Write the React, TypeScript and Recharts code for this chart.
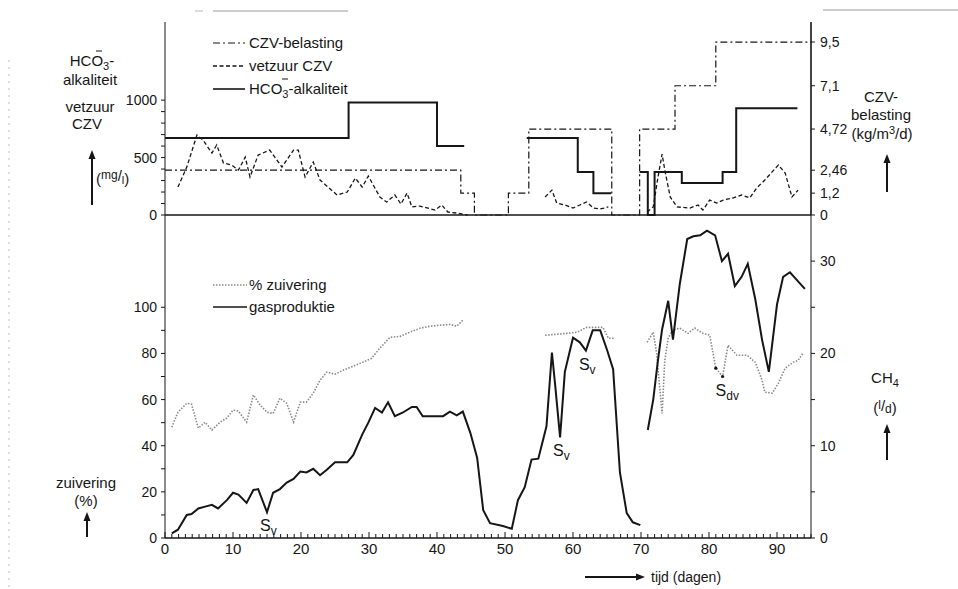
import React from "react";
import { ComposedChart, Line, XAxis, YAxis, ReferenceLine, ReferenceDot } from "recharts";

const FONT = "'Liberation Sans', Arial, sans-serif";
const INK = "#161616";
const GREY = "#8a8a8a";

// top panel: CZV-belasting (kg/m3/d), step line, right axis
const czvDays = [0, 43.5, 45.5, 50.5, 53.5, 65.7, 69.8, 75, 81, 95];
const czvLoad = [2.46, 1.2, 0, 1.2, 4.72, 0, 4.72, 7.1, 9.5, 9.5];

// top panel: HCO3- alkaliteit (mg/l), step line, left axis
const hcoDays = [0, 27, 40, 44, 48, 53.2, 60.7, 63, 65.6, 67, 69.8, 71, 72, 76, 82, 84, 93];
const hcoValues = [670, 980, 600, 600, null, 670, 374, 190, 190, null, 374, 0, 374, 278, 374, 930, 930];

// top panel: vetzuur CZV (mg/l), left axis
const vzDays = [
  1.9, 3.2, 4.7, 5.6, 6.9, 7.6, 8.6, 9.8, 10.8, 11.8, 12.5, 13.7, 15.4, 17.2, 18.9, 19.6, 20.6, 21.8,
  22.8, 25.3, 26.8, 28, 29, 29.9, 31.6, 32.6, 33.8, 34.7, 35.6, 36.3, 37.5, 39.7, 40.7, 41.6, 42.9, 44.5,
  50,
  55.9, 56.9, 57.6, 58.8, 60, 61, 62, 63, 64, 65.2,
  68,
  70.9, 71.8, 72.5, 73.1, 73.5, 74.3, 75.3, 77.2, 78.4, 79.1, 80.1, 81.1, 82.1, 83.5, 84.8, 86, 87, 88.2,
  90.2, 91.2, 92.2, 93.1,
];
const vzValues = [
  243, 417, 696, 652, 539, 609, 452, 435, 391, 504, 330, 522, 565, 417, 565, 565, 330, 461,
  304, 174, 200, 322, 243, 339, 157, 113, 174, 96, 191, 70, 78, 43, 87, 26, 17, 0,
  null,
  157, 217, 104, 87, 61, 87, 113, 61, 52, 70,
  null,
  26, 70, 330, 530, 391, 157, 70, 61, 87, 43, 130, 104, 130, 148, 174, 148, 235, 304,
  435, 365, 157, 217,
];

// bottom panel: % zuivering, left axis
const zvDays = [
  1, 1.9, 3.2, 3.9, 4.9, 5.9, 6.9, 8.1, 9.1, 10, 10.8, 12, 13, 14, 15, 15.9, 16.9, 17.9, 18.9, 19.9,
  20.8, 21.8, 22.8, 23.8, 25, 26.2, 27.7, 29.1, 30.4, 31.6, 33.1, 34.6, 36, 37.5, 39, 40.4, 41.9, 42.9, 43.8,
  50,
  55.9, 57.6, 59.1, 60.6, 62, 63.5, 64.4, 65.2, 66.2,
  68.5,
  70.9, 71.8, 72.3, 73.1, 73.5, 74, 74.6, 75.7, 76.9, 77.9, 79.1, 80.1, 81, 82, 82.8, 84.1, 85.6, 86.8,
  87.8, 88.2, 89.3, 90.2, 91.2, 92.4, 93.1, 93.8,
];
const zvValues = [
  48, 54.5, 58.4, 58, 47.6, 50.2, 46.8, 50.2, 52, 55.4, 55, 50.2, 62, 57.6, 54.5, 54, 60.6, 58.4, 50.2, 58.9,
  58.9, 62.8, 68.4, 71.9, 71, 72.7, 74.5, 76.2, 77.9, 82.3, 87, 87.4, 89.2, 90.9, 91.8, 92.2, 92.6, 91.8, 94.4,
  null,
  87.9, 88.3, 88.7, 89.2, 91.3, 91.3, 91.3, 86.6, 86.6,
  null,
  84.8, 89.2, 80, 54, 77, 86.6, 90, 91, 88.7, 91, 88.7, 87.9, 73.6, 70, 83.5, 79.2, 79.2, 76.2,
  68.4, 63.2, 62.8, 67, 73.6, 76.2, 77, 80,
];

// bottom panel: gasproduktie CH4 (l/d), right axis
const gasDays = [
  1, 1.9, 3.2, 3.9, 4.9, 5.9, 6.9, 7.8, 9.1, 10, 10.8, 12, 13, 13.7, 15, 15.9, 16.9, 17.9, 18.9, 19.9,
  20.8, 21.8, 22.8, 23.8, 25, 26.8, 27.7, 29, 29.9, 30.9, 31.9, 32.8, 33.8, 35, 36.3, 37, 37.9, 40.9,
  41.9, 42.9, 43.8, 44.9, 45.9, 46.8, 47.8, 49.7, 51, 51.9, 52.9, 53.9, 54.9, 56.1, 56.9, 57.4, 58.1,
  58.8, 60, 61, 61.9, 62.9, 64, 65, 65.9, 66.9, 67.9, 68.8, 69.9,
  70.5,
  71, 71.8, 72.5, 73.1, 74, 74.7, 75.7, 76.8, 77.7, 78.7, 79.7, 80.9, 81.9, 82.8, 83.8, 84.8, 85.7,
  86.8, 87.8, 88.8, 90, 90.9, 91.9, 93.1, 94.1,
];
const gasValues = [
  0.5, 0.9, 2.5, 2.6, 3.2, 3.4, 3.6, 3.2, 4.1, 4.9, 4.7, 3.8, 5.2, 5.3, 2.8, 4.9, 5.3, 6, 6.4, 7.2,
  7.1, 7.5, 6.8, 7.4, 8.2, 8.2, 9, 11.2, 12.5, 14.1, 13.6, 14.7, 13.2, 13.6, 14.2, 14.2, 13.2, 13.2,
  13.7, 13.3, 13.7, 11.4, 8.7, 3, 1.6, 1.3, 1, 4.1, 5.5, 8.5, 8.6, 12.1, 20.1, 16.4, 10.9,
  18, 21.7, 21.2, 20.3, 22.5, 22.5, 20.4, 18.3, 7.1, 2.7, 1.7, 1.4,
  null,
  11.7, 15, 19.3, 22.6, 25.7, 21.5, 27.5, 32.4, 32.7, 32.8, 33.3, 32.8, 30, 30.8, 27.3, 28.3, 29.7,
  25.9, 21.5, 18, 25.3, 28.3, 28.8, 27.8, 27,
];

// annotations: S_v marks on the gas line, S_dv on the purification line
const svDays = [15, 58.1, 61.9];
const svValues = [2.8, 10.9, 20.3];
const sdvDays = [81, 82];
const sdvValues = [73.6, 70];

// axis ticks
const mgTicks = [0, 100, 200, 300, 400, 500, 600, 700, 800, 900, 1000];
const loadTicks = [0, 1.2, 2.46, 4.72, 7.1, 9.5];
const pctTicks = [0, 10, 20, 30, 40, 50, 60, 70, 80, 90, 100];
const gasTicks = [0, 5, 10, 15, 20, 25, 30];
const dayTicks = Array.from({ length: 96 }, (_, i) => i);

const zip = (days: number[], vals: (number | null)[]) => days.map((d, i) => ({ d, v: vals[i] }));

const W = 958;
const H = 589;
const tickFont = { fontSize: 14, fill: INK, fontFamily: FONT };

function DayTick(props: any) {
  const { x, y, payload } = props;
  const major = payload.value % 10 === 0;
  return (
    <g>
      <line x1={x} x2={x} y1={y} y2={y - (major ? 6 : 4)} stroke={INK} strokeWidth={1} />
      {major && (
        <text x={x} y={y + 16} textAnchor="middle" fontSize={15} fontFamily={FONT} fill={INK}>
          {payload.value}
        </text>
      )}
    </g>
  );
}

function SMark(props: any) {
  const { cx, cy, sub, dot } = props;
  return (
    <g>
      {dot && <circle cx={cx} cy={cy} r={1.6} fill={INK} />}
      <text x={cx - 7} y={cy + 19} fontSize={16} fontFamily={FONT} fill={INK}>
        S<tspan dy={4} fontSize={12}>{sub}</tspan>
      </text>
    </g>
  );
}

function Arrow({ x1, y1, x2, y2 }: { x1: number; y1: number; x2: number; y2: number }) {
  const a = Math.atan2(y2 - y1, x2 - x1);
  const L = 9, w = 3.5;
  const bx = x2 - L * Math.cos(a), by = y2 - L * Math.sin(a);
  const px = -Math.sin(a) * w, py = Math.cos(a) * w;
  return (
    <g>
      <line x1={x1} y1={y1} x2={bx} y2={by} stroke={INK} strokeWidth={2} />
      <polygon points={`${x2},${y2} ${bx + px},${by + py} ${bx - px},${by - py}`} fill={INK} />
    </g>
  );
}

function Overlay() {
  const t = { fontFamily: FONT, fill: INK, fontSize: 15 } as const;
  return (
    <svg width={W} height={H} style={{ position: "absolute", left: 0, top: 0, pointerEvents: "none" }}>
      {/* scan edges */}
      <line x1={213} x2={348} y1={11} y2={11} stroke="#999" strokeWidth={1} />
      <line x1={195} x2={203} y1={11} y2={11} stroke="#bbb" strokeWidth={1} />
      <line x1={823} x2={958} y1={10} y2={10} stroke="#999" strokeWidth={1} />
      <line x1={9} x2={9} y1={60} y2={589} stroke="#bbb" strokeWidth={1} strokeDasharray="2 5" />

      {/* top legend */}
      <line x1={213} x2={245} y1={43} y2={43} stroke={INK} strokeWidth={1.2} strokeDasharray="7 3 2 3" />
      <text x={249} y={48} {...t}>CZV-belasting</text>
      <line x1={213} x2={245} y1={66} y2={66} stroke={INK} strokeWidth={1.3} strokeDasharray="4 2.5" />
      <text x={249} y={71} {...t}>vetzuur  CZV</text>
      <line x1={213} x2={245} y1={89} y2={89} stroke={INK} strokeWidth={1.6} />
      <text x={249} y={94} {...t}>
        HCO<tspan dy={4} fontSize={11}>3</tspan>
        <tspan dy={-4}>-alkaliteit</tspan>
      </text>
      <line x1={282} x2={288} y1={79} y2={79} stroke={INK} strokeWidth={1} />

      {/* bottom legend */}
      <line x1={213} x2={247} y1={285} y2={285} stroke={GREY} strokeWidth={1.5} strokeDasharray="1.5 1.5" />
      <text x={249} y={290} {...t}>%  zuivering</text>
      <line x1={213} x2={247} y1={307} y2={307} stroke={INK} strokeWidth={1.6} />
      <text x={249} y={312} {...t}>gasproduktie</text>

      {/* left titles */}
      <text x={92} y={66} textAnchor="middle" {...t}>
        HCO<tspan dy={4} fontSize={11}>3</tspan>
        <tspan dy={-4}>-</tspan>
      </text>
      <line x1={96} x2={102} y1={51} y2={51} stroke={INK} strokeWidth={1} />
      <text x={90} y={85} textAnchor="middle" {...t}>alkaliteit</text>
      <text x={90} y={112} textAnchor="middle" {...t}>vetzuur</text>
      <text x={87} y={129} textAnchor="middle" {...t}>CZV</text>
      <Arrow x1={92} y1={205} x2={92} y2={150} />
      <text x={96} y={184} {...t}>
        (<tspan dy={-5} fontSize={12}>mg</tspan>
        <tspan dy={2}>/</tspan>
        <tspan dy={3} fontSize={11}>l</tspan>
        <tspan dy={0}>)</tspan>
      </text>
      <text x={86} y={488} textAnchor="middle" {...t}>zuivering</text>
      <text x={86} y={506} textAnchor="middle" {...t}>(%)</text>
      <Arrow x1={87} y1={537} x2={87} y2={512} />

      {/* right titles */}
      <text x={881} y={102} textAnchor="middle" {...t}>CZV-</text>
      <text x={881} y={120} textAnchor="middle" {...t}>belasting</text>
      <text x={882} y={139} textAnchor="middle" {...t}>
        (kg/m<tspan dy={-5} fontSize={11}>3</tspan>
        <tspan dy={5}>/d)</tspan>
      </text>
      <Arrow x1={887} y1={192} x2={887} y2={154} />
      <text x={885} y={383} textAnchor="middle" {...t}>
        CH<tspan dy={4} fontSize={11}>4</tspan>
      </text>
      <text x={885} y={413} textAnchor="middle" {...t}>
        (<tspan dy={-4} fontSize={12}>l</tspan>
        <tspan dy={2}>/</tspan>
        <tspan dy={2} fontSize={12}>d</tspan>
        <tspan dy={0}>)</tspan>
      </text>
      <Arrow x1={887} y1={460} x2={887} y2={424} />

      {/* time axis title */}
      <Arrow x1={585} y1={577} x2={645} y2={577} />
      <text x={651} y={582} {...t} fontSize={14}>tijd (dagen)</text>
    </svg>
  );
}

export default function App() {
  return (
    <div style={{ position: "absolute", left: 0, top: 0, width: W, height: H, background: "#fff" }}>
      <div style={{ position: "absolute", left: 0, top: 0 }}>
        <ComposedChart width={W} height={240} margin={{ top: 22, right: 0, bottom: 25, left: 0 }}>
          <XAxis type="number" dataKey="d" domain={[0, 95]} hide height={0} />
          <YAxis
            yAxisId="l"
            domain={[0, 1680]}
            ticks={mgTicks}
            interval={0}
            width={165}
            tickSize={4}
            tickMargin={4}
            tick={tickFont}
            tickFormatter={(v: number) => (v % 500 === 0 ? String(v) : "")}
            axisLine={{ stroke: INK, strokeWidth: 1 }}
            tickLine={{ stroke: INK }}
          />
          <YAxis
            yAxisId="r"
            orientation="right"
            domain={[0, 10.6]}
            ticks={loadTicks}
            interval={0}
            width={147}
            tickSize={4}
            tickMargin={5}
            tick={tickFont}
            tickFormatter={(v: number) => String(v).replace(".", ",")}
            axisLine={{ stroke: INK, strokeWidth: 1.6 }}
            tickLine={{ stroke: INK }}
          />
          <ReferenceLine yAxisId="l" y={0} stroke={INK} strokeWidth={1.5} />
          <Line yAxisId="r" data={zip(czvDays, czvLoad)} dataKey="v" type="stepAfter" stroke={INK}
            strokeWidth={1.2} strokeDasharray="7 3 2 3" dot={false} connectNulls={false} isAnimationActive={false} />
          <Line yAxisId="l" data={zip(vzDays, vzValues)} dataKey="v" type="linear" stroke={INK}
            strokeWidth={1.3} strokeDasharray="4 2.5" dot={false} connectNulls={false} isAnimationActive={false} />
          <Line yAxisId="l" data={zip(hcoDays, hcoValues)} dataKey="v" type="stepAfter" stroke={INK}
            strokeWidth={2} dot={false} connectNulls={false} isAnimationActive={false} />
        </ComposedChart>
      </div>
      <div style={{ position: "absolute", left: 0, top: 0 }}>
        <ComposedChart width={W} height={H} margin={{ top: 215, right: 0, bottom: 0, left: 0 }}>
          <XAxis
            type="number"
            dataKey="d"
            domain={[0, 95]}
            ticks={dayTicks}
            interval={0}
            height={51}
            tickSize={0}
            tickMargin={0}
            tickLine={false}
            tick={(p: any) => <DayTick {...p} />}
            axisLine={{ stroke: INK, strokeWidth: 1.5 }}
          />
          <YAxis
            yAxisId="l"
            domain={[0, 140]}
            ticks={pctTicks}
            interval={0}
            width={165}
            tickSize={4}
            tickMargin={4}
            tick={tickFont}
            tickFormatter={(v: number) => (v % 20 === 0 ? String(v) : "")}
            axisLine={{ stroke: INK, strokeWidth: 1 }}
            tickLine={{ stroke: INK }}
          />
          <YAxis
            yAxisId="r"
            orientation="right"
            domain={[0, 35]}
            ticks={gasTicks}
            interval={0}
            width={147}
            tickSize={4}
            tickMargin={5}
            tick={tickFont}
            tickFormatter={(v: number) => (v % 10 === 0 ? String(v) : "")}
            axisLine={{ stroke: INK, strokeWidth: 1 }}
            tickLine={{ stroke: INK }}
          />
          <Line yAxisId="l" data={zip(zvDays, zvValues)} dataKey="v" type="linear" stroke={GREY}
            strokeWidth={1.6} strokeDasharray="1.5 1.5" dot={false} connectNulls={false} isAnimationActive={false} />
          <Line yAxisId="r" data={zip(gasDays, gasValues)} dataKey="v" type="linear" stroke={INK}
            strokeWidth={2} dot={false} connectNulls={false} isAnimationActive={false} />
          {svDays.map((d, i) => (
            <ReferenceDot key={"sv" + i} yAxisId="r" x={d} y={svValues[i]} r={0}
              shape={(p: any) => <SMark {...p} sub="v" />} />
          ))}
          {sdvDays.map((d, i) => (
            <ReferenceDot key={"sdv" + i} yAxisId="l" x={d} y={sdvValues[i]} r={0}
              shape={(p: any) => (i === 1 ? <SMark {...p} sub="dv" dot /> : <circle cx={p.cx} cy={p.cy} r={1.6} fill={INK} />)} />
          ))}
        </ComposedChart>
      </div>
      <Overlay />
    </div>
  );
}
